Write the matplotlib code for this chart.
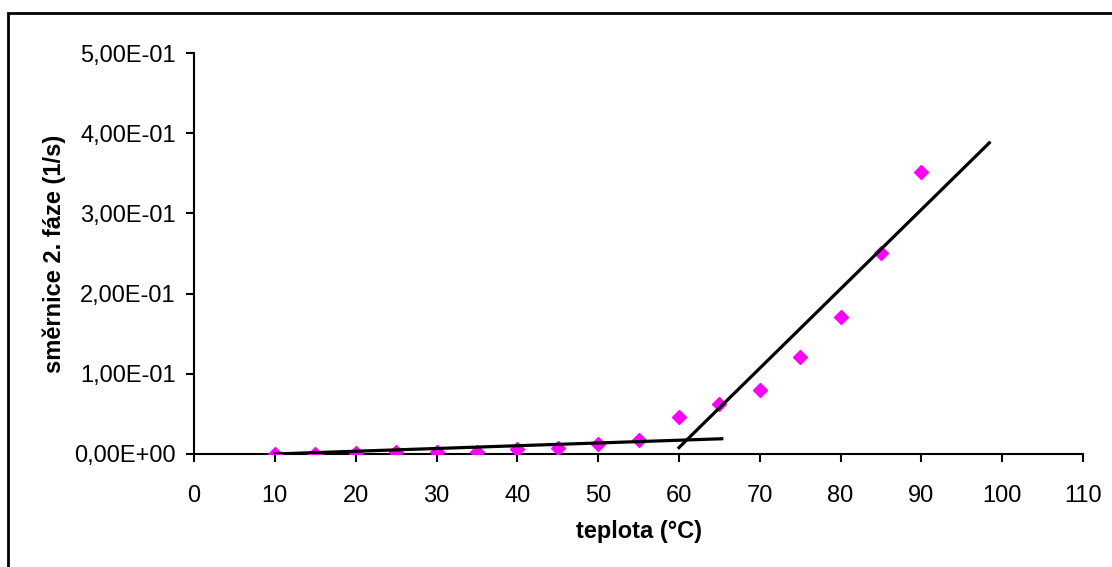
import matplotlib.pyplot as plt
from matplotlib.patches import Rectangle
from matplotlib.ticker import FuncFormatter

plt.rcParams['font.family'] = ['Liberation Sans', 'DejaVu Sans']

# measured points
teplota = [10, 15, 20, 25, 30, 35, 40, 45, 50, 55, 60, 65, 70, 75, 80, 85, 90]
smernice = [0.0, 0.0005, 0.001, 0.002, 0.002, 0.003, 0.006, 0.008, 0.013,
            0.018, 0.046, 0.062, 0.080, 0.121, 0.171, 0.251, 0.352]

# trend lines (end points)
trend1_x = [10, 65.3]
trend1_y = [0.0, 0.019]
trend2_x = [60.0, 98.4]
trend2_y = [0.008, 0.388]

fig = plt.figure(figsize=(11.12, 5.67), dpi=100)
ax = fig.add_axes([0.1745, 0.1993, 0.7995, 0.7072])

ax.plot(teplota, smernice, linestyle='none', marker='D', markersize=7.5,
        color='#ff00ff', zorder=3)
ax.plot(trend1_x, trend1_y, color='black', linewidth=2.3, zorder=4)
ax.plot(trend2_x, trend2_y, color='black', linewidth=2.3, zorder=4)

ax.set_xlim(0, 110)
ax.set_ylim(0, 0.5)
ax.set_xticks(range(0, 111, 10))
ax.set_yticks([0, 0.1, 0.2, 0.3, 0.4, 0.5])


def sci_comma(v, pos):
    s = '%.2E' % v
    mant, exp = s.split('E')
    return mant.replace('.', ',') + 'E' + exp


ax.yaxis.set_major_formatter(FuncFormatter(sci_comma))
ax.spines['top'].set_visible(False)
ax.spines['right'].set_visible(False)
ax.spines['left'].set_linewidth(1.5)
ax.spines['bottom'].set_linewidth(1.5)
ax.tick_params(direction='out', length=6, width=1.5, labelsize=17)
ax.tick_params(axis='y', pad=7)
ax.tick_params(axis='x', pad=16)

ax.set_xlabel('teplota (°C)', fontsize=17, fontweight='bold', labelpad=10)
ax.set_ylabel('směrnice 2. fáze (1/s)', fontsize=17, fontweight='bold', labelpad=6)

# outer chart frame, right and bottom edges fall outside the picture
fig.patches.append(Rectangle((8 / 1112, -0.1), 1.2, 1 - 13 / 567 + 0.1,
                             transform=fig.transFigure, fill=False,
                             edgecolor='black', linewidth=2))

fig.savefig('out.png', dpi=100)
